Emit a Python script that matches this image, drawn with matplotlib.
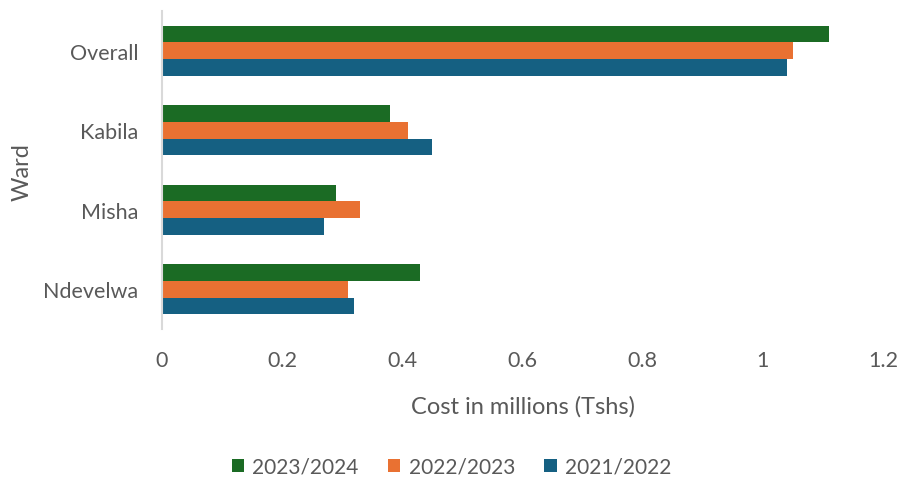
import numpy as np
import matplotlib
matplotlib.use("Agg")
import matplotlib.pyplot as plt

wards = ["Overall", "Kabila", "Misha", "Ndevelwa"]
seasons = ["2023/2024", "2022/2023", "2021/2022"]
cost_2023_24 = [1.11, 0.38, 0.29, 0.43]
cost_2022_23 = [1.05, 0.41, 0.33, 0.31]
cost_2021_22 = [1.04, 0.45, 0.27, 0.32]
colors = ["#1b6b24", "#e97132", "#156082"]

plt.rcParams["font.family"] = ["Lato", "DejaVu Sans"]
text_color = "#595959"

fig = plt.figure(figsize=(9.03, 4.81), dpi=100)
ax = fig.add_axes([0.1794, 0.314, 0.7985, 0.661])

y = np.arange(len(wards))
h = 0.21
series = [cost_2023_24, cost_2022_23, cost_2021_22]
for i, (vals, lab, c) in enumerate(zip(series, seasons, colors)):
    ax.barh(y - h + i * h, vals, height=h, color=c, label=lab)

ax.set_ylim(len(wards) - 0.5, -0.5)
ax.set_xlim(0, 1.2)
ax.set_xticks([0, 0.2, 0.4, 0.6, 0.8, 1.0, 1.2])
ax.set_xticklabels(["0", "0.2", "0.4", "0.6", "0.8", "1", "1.2"])
ax.set_yticks(y)
ax.set_yticklabels(wards)
ax.tick_params(axis="both", length=0, labelsize=15.5, colors=text_color)
ax.tick_params(axis="x", pad=15)
ax.tick_params(axis="y", pad=17)

for s in ["top", "right", "bottom"]:
    ax.spines[s].set_visible(False)
ax.spines["left"].set_color("#d9d9d9")
ax.spines["left"].set_linewidth(1.5)

ax.set_xlabel("Cost in millions (Tshs)", fontsize=17, color=text_color, labelpad=18)
# y-axis title placed by hand so it stays inside the figure
fig.text(22 / 903, 1 - 172 / 481, "Ward", rotation=90, fontsize=17,
         color=text_color, ha="center", va="center")

fig.legend(loc="center", bbox_to_anchor=(0.5, 1 - 468 / 481), ncol=3, frameon=False,
           fontsize=15, labelcolor=text_color, handlelength=0.6, handleheight=0.6,
           handletextpad=0.4, columnspacing=1.4)

fig.savefig("out.png", dpi=100)
